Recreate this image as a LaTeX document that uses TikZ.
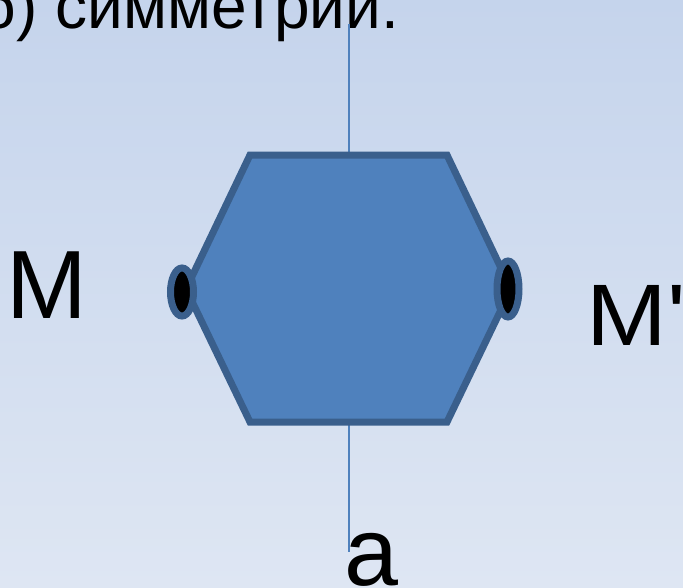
\documentclass[tikz,border=0pt]{standalone}
\usepackage{fontspec}
\setmainfont{Liberation Sans}
\usetikzlibrary{shapes.geometric}
\definecolor{bgTop}{HTML}{C5D4EC}
\definecolor{bgBottom}{HTML}{DEE6F3}
\definecolor{hexFill}{HTML}{4F81BD}
\definecolor{hexLine}{HTML}{3A5F8C}
\definecolor{axisLine}{HTML}{4F81BD}

\begin{document}
\begin{tikzpicture}[
  x=1pt, y=-1pt,
  lbl/.style    ={inner sep=0pt, text=black, anchor=base west},
  hexshape/.style={fill=hexFill, draw=hexLine, line width=7pt},
  spot/.style   ={ellipse, draw=hexLine, fill=black, line width=7pt, inner sep=0pt},
  axis/.style   ={draw=axisLine, line width=1.8pt},
]

% ----- Background and frame -----
\useasboundingbox (0,0) rectangle (683,587);
\clip (0,0) rectangle (683,587);
\fill[top color=bgTop, bottom color=bgBottom] (0,0) rectangle (683,587);

% ----- Heading (cut by the frame) -----
\node[lbl, anchor=base east, font=\fontsize{64}{64}\selectfont] (TITLE) at (399,28)
  {б) симметрии.};

% ----- Axis of symmetry -----
\coordinate (axTop) at (349,24);
\coordinate (axBot) at (349,552);
\draw[axis] (axTop) -- (axBot);

% ----- Hexagon -----
\draw[hexshape] (250,155) -- (447,155) -- (511,289) -- (447,422)
  -- (250,422) -- (186,289) -- cycle;

% ----- Points M and M' -----
\node[spot, minimum width=23pt, minimum height=48pt] (M)  at (182,292) {};
\node[spot, minimum width=22pt, minimum height=56pt] (MM) at (508,289) {};

% ----- Labels -----
\node[lbl, font=\fontsize{97}{97}\selectfont] (labM) at (6,318) {M};
\node[lbl, font=\fontsize{97}{97}\selectfont] (labMM) at (586,345)
  {\scalebox{1}[0.9]{M\textquotesingle}};
\node[lbl, font=\fontsize{97}{97}\selectfont] (labA) at (344,585) {a};

\end{tikzpicture}
\end{document}
